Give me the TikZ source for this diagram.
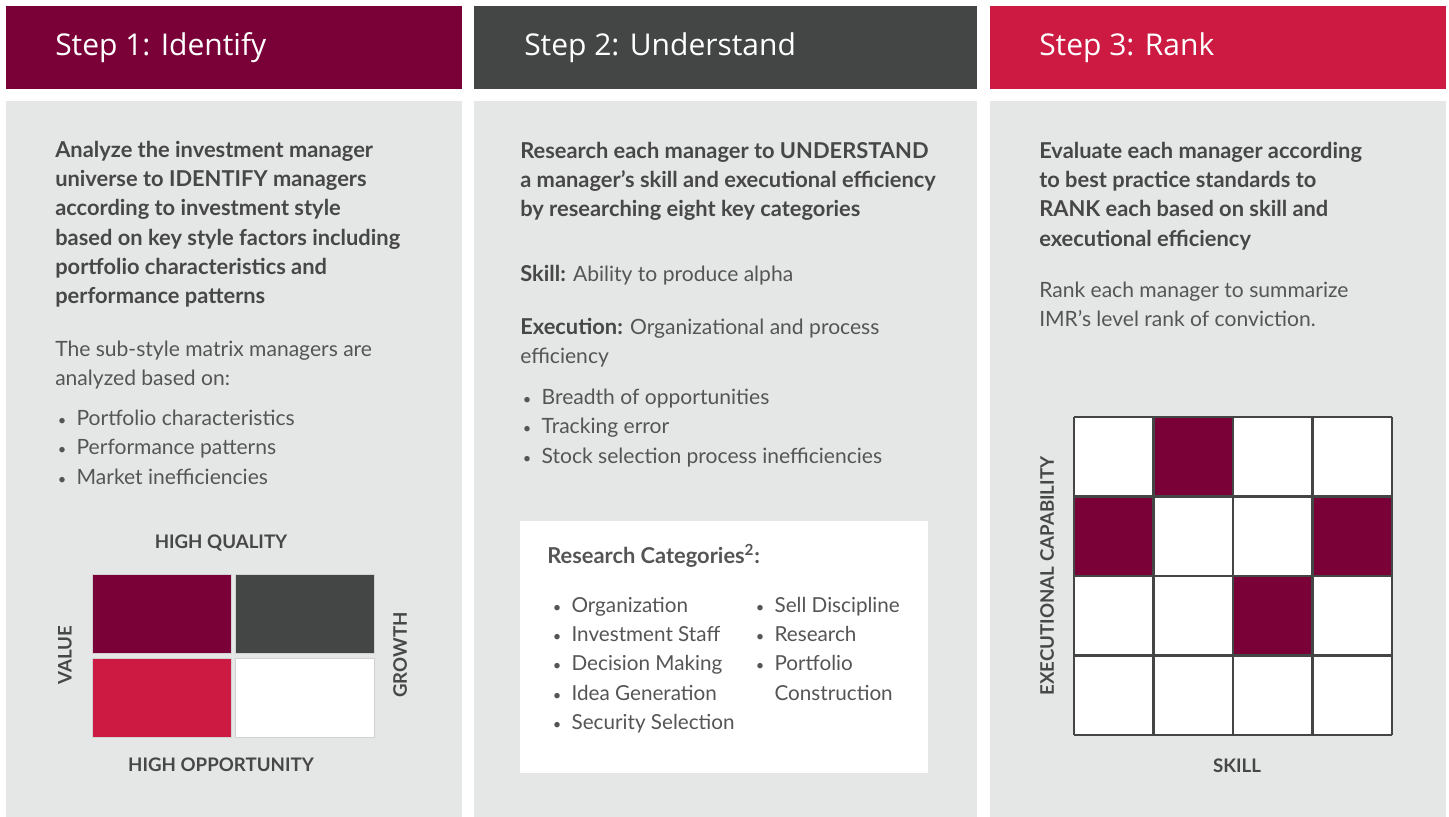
\documentclass[tikz,border=0pt]{standalone}
\usepackage{fontspec}
\setmainfont{Lato}
\newfontfamily\headfont{Open Sans}
\usetikzlibrary{positioning}

\definecolor{idmaroon}{HTML}{7A0038}
\definecolor{udslate}{HTML}{444645}
\definecolor{rkcrimson}{HTML}{CC1A42}
\definecolor{panelgrey}{HTML}{E5E7E6}
\definecolor{inkgrey}{HTML}{474747}
\definecolor{softgrey}{HTML}{555555}

\newcommand{\bul}{\makebox[16pt][l]{\hspace{2pt}\fontsize{11}{11}\selectfont\textbullet}}

\tikzset{
  header/.style={anchor=west, text=white, inner sep=0, font=\headfont\fontsize{22.5}{26}\selectfont},
  para/.style={anchor=north west, align=left, inner sep=0, text=softgrey, font=\fontsize{15.8}{21.9}\selectfont},
  boldpara/.style={para, text=inkgrey, font=\bfseries\fontsize{16.4}{21.9}\selectfont},
  axislabel/.style={inner sep=0, text=inkgrey, font=\bfseries\fontsize{14}{16}\selectfont},
  quad/.style={draw=black!18, line width=0.5pt, minimum width=104pt, minimum height=59pt, inner sep=0},
  gridline/.style={draw=udslate, line width=1.6pt},
}

\begin{document}
\begin{tikzpicture}[x=0.75pt,y=-0.75pt]
    \useasboundingbox (0,0) rectangle (1449,817);

    % header bars and panels
    \fill[idmaroon] (6,6) rectangle (462,89);
    \fill[udslate] (474,6) rectangle (977,89);
    \fill[rkcrimson] (990,6) rectangle (1446,89);
    \foreach \xa/\xb in {6/462, 474/977, 990/1446} {
        \fill[panelgrey] (\xa,101) rectangle (\xb,817);
    }
    \node[header] (h1) at (55,48) {Step 1: Identify};
    \node[header] (h2) at (524,48) {Step 2: Understand};
    \node[header] (h3) at (1039,48) {Step 3: Rank};

    % Step 1
    \node[boldpara] (idlead) at (55,141) {Analyze the investment manager\\
        universe to IDENTIFY managers\\
        according to investment style\\
        based on key style factors including\\
        portfolio characteristics and\\
        performance patterns};
    \node[para] (idsub) at (55,341) {The sub-style matrix managers are\\analyzed based on:};
    \node[para] (idlist) at (55,410) {\bul Portfolio characteristics\\
        \bul Performance patterns\\
        \bul Market inefficiencies};

    % style matrix
    \node[quad, fill=idmaroon] (qvq) at (161.5,613.5) {};
    \node[quad, fill=udslate] (qgq) at (305,613.5) {};
    \node[quad, fill=rkcrimson] (qvo) at (161.5,697.5) {};
    \node[quad, fill=white] (qgo) at (305,697.5) {};
    \node[axislabel] (hq) at (221,543) {HIGH QUALITY};
    \node[axislabel] (ho) at (221,765) {HIGH OPPORTUNITY};
    \node[axislabel, rotate=90] (val) at (65,655) {VALUE};
    \node[axislabel, rotate=90] (gro) at (400,655) {GROWTH};

    % Step 2
    \node[boldpara] (udlead) at (520,142) {Research each manager to UNDERSTAND\\
        a manager’s skill and executional efficiency\\
        by researching eight key categories};
    \node[para] (skill) at (520,265) {\textbf{\color{inkgrey}\fontsize{16.4}{21.9}\selectfont Skill:} Ability to produce alpha};
    \node[para] (exec) at (520,318) {\textbf{\color{inkgrey}\fontsize{16.4}{21.9}\selectfont Execution:} Organizational and process\\efficiency};
    \node[para] (udlist) at (520,389) {\bul Breadth of opportunities\\
        \bul Tracking error\\
        \bul Stock selection process inefficiencies};

    % research categories box
    \fill[white] (520,521) rectangle (928,773);
    \node[boldpara, text=softgrey] (cathead) at (547,544) {Research Categories\textsuperscript{2}:};
    \node[para, font=\fontsize{15.5}{21.9}\selectfont] (catl) at (550,597) {\bul Organization\\
        \bul Investment Staff\\
        \bul Decision Making\\
        \bul Idea Generation\\
        \bul Security Selection};
    \node[para, font=\fontsize{15.5}{21.9}\selectfont] (catr) at (753,597) {\bul Sell Discipline\\
        \bul Research\\
        \bul Portfolio\\
        \makebox[16pt]{}Construction};

    % Step 3
    \node[boldpara] (rklead) at (1039,142) {Evaluate each manager according\\
        to best practice standards to\\
        RANK each based on skill and\\
        executional efficiency};
    \node[para] (rksub) at (1039,282) {Rank each manager to summarize\\IMR’s level rank of conviction.};

    % rank grid
    \fill[white] (1074,417) rectangle (1392,735);
    \foreach \c/\r in {1/0, 0/1, 3/1, 2/2} {
        \fill[idmaroon] (1074+\c*79.5,417+\r*79.5) rectangle ++(79.5,79.5);
    }
    \foreach \i in {0,...,4} {
        \draw[gridline] (1074+\i*79.5,417) -- (1074+\i*79.5,735);
        \draw[gridline] (1074,417+\i*79.5) -- (1392,417+\i*79.5);
    }
    \node[axislabel] (sk) at (1237,766) {SKILL};
    \node[axislabel, rotate=90] (ec) at (1047,576) {EXECUTIONAL CAPABILITY};
\end{tikzpicture}
\end{document}
